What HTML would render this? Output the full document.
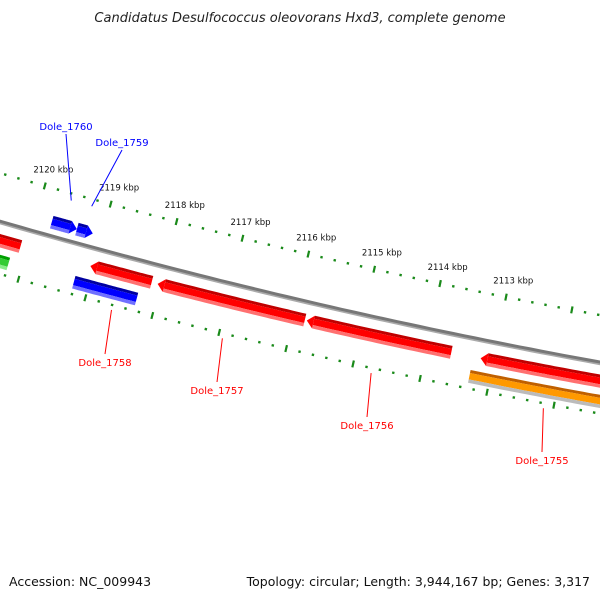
<!DOCTYPE html>
<html><head><meta charset="utf-8"><style>
body{margin:0;background:#fff;}
svg{display:block;font-family:"DejaVu Sans","Liberation Sans",sans-serif;}
</style></head><body>
<svg id="map" width="600" height="600" viewBox="0 0 600 600">
<text x="300" y="22" text-anchor="middle" font-size="13" font-style="italic" fill="#222">Candidatus Desulfococcus oleovorans Hxd3, complete genome</text>
<text x="9" y="586" font-size="12.5" fill="#111">Accession: NC_009943</text>
<text x="590" y="586" text-anchor="end" font-size="12.5" fill="#111">Topology: circular; Length: 3,944,167 bp; Genes: 3,317</text>
<g id="layer"></g>
</svg>
<script>
// data arrays (kbp)
const majorTicks = [2121, 2120, 2119, 2118, 2117, 2116, 2115, 2114, 2113, 2112];
const tickLabels = ["","2120 kbp","2119 kbp","2118 kbp","2117 kbp","2116 kbp","2115 kbp","2114 kbp","2113 kbp",""];
const geneNames = ["Dole_1761","Dole_1760","Dole_1759","Dole_1758","Dole_1758b","Dole_1757","Dole_1756","Dole_1755","Dole_1755b","Dole_1762"];
const geneStart = [2120.10, 2119.76, 2119.38, 2119.05, 2119.22, 2118.04, 2115.80, 2113.19, 2113.30, 2120.20];
const geneEnd   = [2120.90, 2119.38, 2119.14, 2118.13, 2118.28, 2115.83, 2113.63, 2111.10, 2111.10, 2120.90];
const geneRow   = [18, -14, -14, 18, 38, 18, 18, 18, 38, 38];
const geneColor = ["red","blue","blue","red","blue","red","red","red","orange","green"];
const geneArrow = ["none","right","right","left","none","left","left","left","none","none"];
const labelNames = ["Dole_1760","Dole_1759","Dole_1758","Dole_1757","Dole_1756","Dole_1755"];
const labelColor = ["blue","blue","red","red","red","red"];
const labelGene = [1,2,3,5,6,7];
const labelPos = [[66,130],[122,146],[105,366],[217,394],[367,429],[542,464]];

const NS="http://www.w3.org/2000/svg";
const layer=document.getElementById('layer');
function xOf(p){return 32+(2120-p)*66.4;}
function yb(x){return 222+0.2884*x-8.95e-5*x*x;}
function pt(p,off){const x=xOf(p);const d=0.2884-2*8.95e-5*x;const n=Math.sqrt(1+d*d);return [x-off*d/n, yb(x)+off/n];}
function mk(tag,attrs){const e=document.createElementNS(NS,tag);for(const k in attrs)e.setAttribute(k,attrs[k]);layer.appendChild(e);return e;}
function band(p1,p2,o1,o2){const pts=[];const N=30;for(let i=0;i<=N;i++){const p=p1+(p2-p1)*i/N;pts.push(pt(p,o1));}for(let i=N;i>=0;i--){const p=p1+(p2-p1)*i/N;pts.push(pt(p,o2));}return pts.map(a=>a[0].toFixed(1)+','+a[1].toFixed(1)).join(' ');}
function curve(p1,p2,o){const pts=[];for(let i=0;i<=60;i++){pts.push(pt(p1+(p2-p1)*i/60,o));}return 'M'+pts.map(a=>a[0].toFixed(1)+','+a[1].toFixed(1)).join(' L');}

// backbone
let bb=mk('path',{d:curve(2121,2111,0.8),stroke:'#aaa','stroke-width':3,fill:'none'});


bb=mk('path',{d:curve(2121,2111,-0.8),stroke:'#777','stroke-width':3,fill:'none'});



// ticks
for(let k=0;k<majorTicks.length;k++){
  for(let j=0;j<5;j++){
    const p=majorTicks[k]-j*0.2;
    [-47,50].forEach(off=>{
      const major=j===0;
      const a=pt(p,off-(major?3.5:1.2)),b=pt(p,off+(major?3.5:1.2));
      const t=mk('line',{x1:a[0],y1:a[1],x2:b[0],y2:b[1],stroke:'#1a8a1a','stroke-width':major?2.2:2.4});
      
      
    });
  }
  if(!tickLabels[k])continue;
  const lp=pt(majorTicks[k],-64);
  const tl=mk('text',{x:lp[0]+4,y:lp[1]+3,'font-size':8.5,'text-anchor':'middle',fill:'#111'});
  tl.textContent=tickLabels[k];
  
  
}

const cols={red:['#c00000','#ff0000','#ff7070'],blue:['#0000a0','#0000ff','#7070ff'],orange:['#c06000','#ff9900','#bbbbbb'],green:['#00a000','#33cc33','#88ee88']};
for(let i=0;i<geneNames.length;i++){
  const o=geneRow[i],h=6.5;const c=cols[geneColor[i]];
  let s=geneStart[i],e=geneEnd[i];
  const g=document.createElementNS(NS,'g');layer.appendChild(g);
  
  
  const ah=0.1;
  let s2=s,e2=e;
  if(geneArrow[i]==='left')s2=s-ah;
  if(geneArrow[i]==='right')e2=e+ah;
  function poly(o1,o2,fill){const q=document.createElementNS(NS,'polygon');q.setAttribute('points',band(s2,e2,o1,o2));q.setAttribute('fill',fill);g.appendChild(q);return q;}
  poly(o-h,o-h+3,c[0]);
  poly(o-h+3,o+h-3.5,c[1]);
  poly(o+h-3.5,o+h,c[2]);
  if(geneArrow[i]!=='none'){
    const tip=geneArrow[i]==='left'?s:e;
    const base=geneArrow[i]==='left'?s2:e2;
    const p1=pt(base,o-h),p2=pt(tip,o),p3=pt(base,o+h);
    const q=document.createElementNS(NS,'polygon');
    q.setAttribute('points',[p1,p2,p3].map(a=>a.join(',')).join(' '));
    q.setAttribute('fill',c[1]);g.appendChild(q);
  }
}

for(let i=0;i<labelNames.length;i++){
  const gi=labelGene[i];const mid=(geneStart[gi]+geneEnd[gi])/2;
  const o=geneRow[gi];
  const anchor=o<0?pt(mid,-40):pt(mid,55);
  const [lx,ly]=labelPos[i];
  const ln=mk('line',{x1:lx,y1:o<0?ly+4:ly-12,x2:anchor[0],y2:anchor[1],stroke:labelColor[i],'stroke-width':1});
  
  
  const t=mk('text',{x:lx,y:ly,'font-size':10,'text-anchor':'middle',fill:labelColor[i]});
  t.textContent=labelNames[i];
  
  
}
</script>
</body></html>
